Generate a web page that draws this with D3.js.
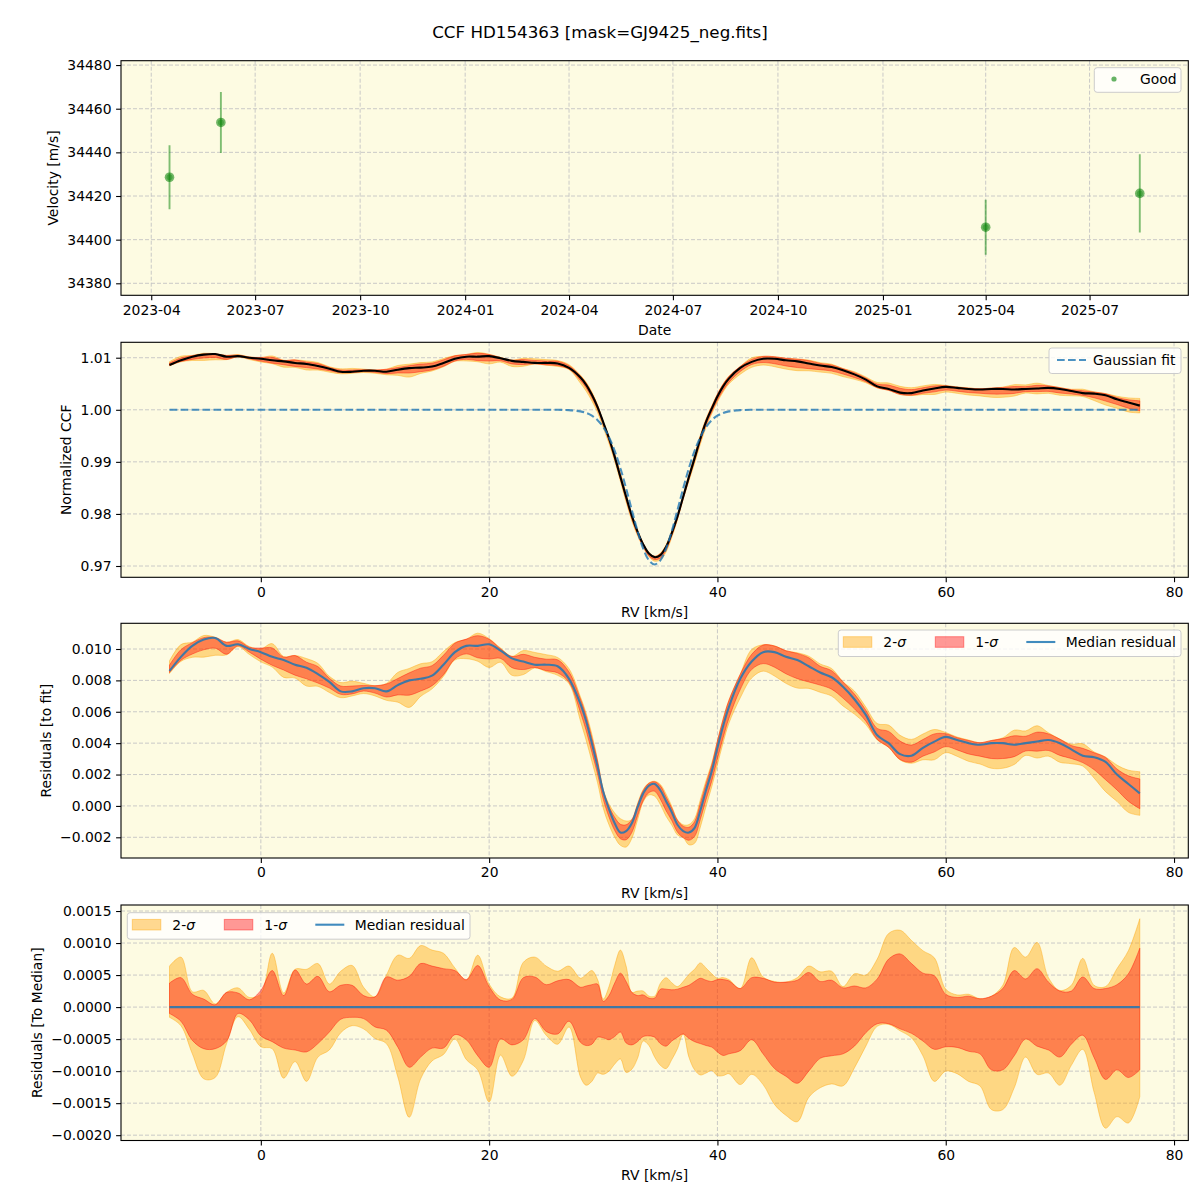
<!DOCTYPE html>
<html><head><meta charset="utf-8">
<script src="https://cdn.jsdelivr.net/npm/d3@7"></script>
<style>body{margin:0;background:#fff}</style>
</head><body>
<svg id="c" width="1200" height="1200" xmlns="http://www.w3.org/2000/svg"></svg>
<script>
// ---------------- data ----------------
const titleText = "CCF HD154363 [mask=GJ9425_neg.fits]";
const obsDates = ["2023-04-17", "2023-06-01", "2025-04-01", "2025-08-14"];
const obsVel = [34428.6, 34453.7, 34405.7, 34421.2];
const obsErr = [14.7, 14.0, 12.6, 17.9];

const rv = [-8,-7,-6,-5,-4,-3,-2,-1,0,1,2,3,4,5,6,7,8,9,10,11,12,13,14,15,16,17,18,19,20,21,22,23,24,25,26,27,
  28,28.5,29,29.5,30,30.5,31,31.5,32,32.5,33,33.5,34,34.5,35,35.5,36,36.5,37,37.5,38,38.5,39,39.5,40,40.5,41,
  42,43,44,45,46,47,48,49,50,51,52,53,54,55,56,57,58,59,60,61,62,63,64,65,66,67,68,69,70,71,72,73,74,75,76,77];

const gaussFit = [1,1,1,1,1,1,1,1,1,1,1,1,1,1,1,1,1,1,1,1,1,1,1,1,1,1,1,1,1,1,1,1,1,1,1,0.99993,
  0.99969,0.99940,0.99887,0.99801,0.99668,0.99474,0.99211,0.98878,0.98489,0.98073,0.97672,0.97334,0.97109,0.97030,
  0.97109,0.97334,0.97672,0.98073,0.98489,0.98878,0.99211,0.99474,0.99668,0.99801,0.99887,0.99940,0.99969,
  0.99993,1,1,1,1,1,1,1,1,1,1,1,1,1,1,1,1,1,1,1,1,1,1,1,1,1,1,1,1,1,1,1,1,1,1,1];

const medianRes = [0.0086,0.0095,0.0102,0.0106,0.0107,0.0102,0.0103,0.0100,0.0098,0.0095,0.0093,0.0090,0.0088,0.0084,0.0079,0.0073,0.0073,0.0075,0.0075,0.0073,0.0077,0.0080,0.0081,0.0083,0.0090,0.0098,0.0102,0.0102,0.0103,0.0099,0.0094,0.0092,0.0090,0.0090,0.0089,0.0081,
  0.0065,0.0054,0.0040,0.0025,0.0009,-0.0002,-0.0011,-0.0017,-0.0016,-0.0011,-0.0001,0.0008,0.0013,0.0014,0.0010,0.0003,-0.0004,-0.0012,-0.0016,-0.0017,-0.0014,-0.0003,0.0010,0.0022,0.0037,0.0051,0.0063,
  0.0081,0.0092,0.0098,0.0098,0.0095,0.0093,0.0089,0.0085,0.0082,0.0076,0.0068,0.0058,0.0045,0.0040,0.0033,0.0032,0.0037,0.0041,0.0044,0.0042,0.0040,0.0039,0.0040,0.0040,0.0039,0.0040,0.0041,0.0042,0.0040,0.0036,0.0032,0.0031,0.0028,0.0020,0.0014,0.0008];

// band offsets from the median, in units of 1e-4
const up2 = [6.4,7.8,2.4,2.6,0.5,2.3,3.0,1.5,2.1,8.4,2.2,5.9,5.9,6.8,3.6,5.6,6.5,3.1,1.6,5.0,8.1,7.6,9.6,8.9,8.4,6.1,4.2,8.1,3.6,1.6,1.4,7.0,7.8,6.4,5.6,6.4,
  4.5,5.1,5.7,4.3,1.25,3.2,6.5,8.9,6.4,2.3,2.5,2.5,1.7,1.7,3.7,4.6,3.8,3.2,4.0,5.1,5.9,6.9,6.1,5.2,4.5,4.6,4.3,
  2.9,7.7,4.7,4.0,3.9,4.6,6.4,5.5,5.6,3.2,5.2,5.0,7.5,11.5,12.0,10.4,8.8,7.7,2.8,1.9,2.0,1.3,1.7,3.4,9.3,7.8,10.1,4.6,2.6,3.4,7.6,3.4,3.2,6.0,8.8,13.8];
const up1 = [3.75,4.6,2.0,1.25,0.36,2.3,2.2,1.15,2.6,5.7,1.8,5.8,3.6,4.8,2.4,3.4,3.4,1.8,1.6,4.7,4.2,4.8,6.8,6.4,6.0,5.7,4.3,6.5,3.2,1.1,1.2,4.6,4.7,3.5,4.1,4.3,
  3.1,3.3,3.5,3.6,0.9,1.8,3.75,5.3,4.0,2.3,1.8,1.9,1.4,1.4,2.8,2.8,2.7,2.8,3.1,3.4,4.0,4.5,4.2,4.0,4.3,4.3,4.1,
  2.9,4.6,4.5,3.9,3.9,4.2,5.4,4.0,4.2,3.0,3.3,3.0,4.4,7.5,8.3,6.8,5.3,4.9,2.0,1.5,1.7,1.3,1.7,2.9,5.7,4.4,6.0,3.9,2.5,2.5,4.7,2.9,2.9,3.5,5.2,9.2];
const lo1 = [-1.0,-2.2,-5.2,-6.5,-6.5,-5.3,-1.0,-2.0,-4.5,-5.4,-6.4,-6.7,-7.0,-5.7,-3.9,-1.9,-1.6,-1.8,-3.1,-3.6,-6.25,-9.4,-7.8,-6.4,-6.4,-4.3,-5.1,-7.6,-9.4,-5.0,-5.9,-5.1,-1.8,-3.8,-4.2,-2.2,
  -5.5,-6.0,-5.8,-4.7,-4.8,-5.1,-4.6,-3.9,-5.6,-5.9,-5.4,-4.6,-4.5,-4.7,-5.7,-6.1,-5.3,-4.7,-4.2,-4.9,-5.4,-5.7,-6.0,-6.25,-7.0,-7.55,-7.3,
  -6.8,-5.1,-7.3,-9.6,-10.8,-11.9,-10.0,-8.0,-7.6,-7.3,-6.1,-4.0,-2.6,-2.6,-3.4,-4.1,-5.3,-6.6,-6.2,-6.3,-6.9,-7.3,-9.8,-9.8,-7.6,-5.0,-6.1,-6.7,-7.8,-5.8,-4.4,-7.9,-11.3,-9.8,-11.0,-9.8];
const lo2 = [-1.6,-2.9,-7.3,-11.2,-11.0,-5.7,-1.5,-3.5,-6.2,-6.5,-11.1,-8.5,-11.6,-7.8,-6.7,-4.0,-2.9,-3.4,-4.9,-5.7,-10.9,-17.2,-11.2,-8.4,-7.4,-5.0,-8.2,-9.8,-14.8,-7.5,-10.8,-8.3,-2.1,-4.4,-5.8,-3.1,
  -10.9,-12.2,-11.6,-10.3,-10.5,-10.0,-8.9,-8.1,-10.2,-9.7,-8.0,-5.3,-6.0,-7.8,-9.1,-9.6,-8.2,-6.5,-4.2,-7.8,-9.8,-10.6,-10.3,-9.9,-10.7,-10.7,-10.4,
  -12.1,-10.5,-12.1,-15.2,-16.9,-17.9,-14.1,-12.6,-12.0,-12.3,-9.5,-6.1,-3.0,-2.7,-3.7,-4.8,-7.6,-11.6,-10.0,-10.4,-11.6,-12.3,-16.0,-16.0,-12.6,-7.8,-10.5,-10.3,-12.2,-9.1,-6.6,-13.3,-18.9,-17.1,-18.1,-14.0];

const dateTicks = ["2023-04","2023-07","2023-10","2024-01","2024-04","2024-07","2024-10","2025-01","2025-04","2025-07"];
const velTicks = [34380, 34400, 34420, 34440, 34460, 34480];
const rvTicks = [0, 20, 40, 60, 80];
const ccfTicks = [0.97, 0.98, 0.99, 1.00, 1.01];
const resTicks = [-0.002, 0.000, 0.002, 0.004, 0.006, 0.008, 0.010];
const medTicks = [-0.0020, -0.0015, -0.0010, -0.0005, 0.0000, 0.0005, 0.0010, 0.0015];

// ---------------- layout ----------------
const FONT = "'DejaVu Sans', sans-serif";
const FS = 13.9;
const L = 121, R = 1188.3;
const BG = "#fdfbe2";
const C0 = "#1f77b4";
const svg = d3.select("#c");
svg.append("rect").attr("width", 1200).attr("height", 1200).attr("fill", "#fff");

svg.append("text").attr("x", 600).attr("y", 38).attr("text-anchor", "middle")
  .attr("font-family", FONT).attr("font-size", 16.7).text(titleText);

const parse = d3.utcParse("%Y-%m-%d");
const parseM = d3.utcParse("%Y-%m");
const dates = obsDates.map(parse);
const dExt = d3.extent(dates);
const dPad = (dExt[1] - dExt[0]) * 0.05;
const xDate = d3.scaleUtc().domain([new Date(+dExt[0] - dPad), new Date(+dExt[1] + dPad)]).range([L, R]);

const rvExt = d3.extent(rv);
const rvPad = (rvExt[1] - rvExt[0]) * 0.05;
const xRV = d3.scaleLinear().domain([rvExt[0] - rvPad, rvExt[1] + rvPad]).range([L, R]);

const curve = d3.curveCatmullRom.alpha(0.5);
let clipId = 0;

function panel(top, bottom, x, y, xTickVals, xFmt, yTickVals, yFmt, xLabel, yLabel, yLabelX) {
  const g = svg.append("g");
  g.append("rect").attr("x", L).attr("y", top).attr("width", R - L).attr("height", bottom - top).attr("fill", BG);
  const grid = g.append("g").attr("stroke", "#c4c4c4").attr("stroke-width", 0.9).attr("stroke-dasharray", "4,2");
  xTickVals.forEach(t => grid.append("line").attr("x1", x(t)).attr("x2", x(t)).attr("y1", top).attr("y2", bottom));
  yTickVals.forEach(t => grid.append("line").attr("x1", L).attr("x2", R).attr("y1", y(t)).attr("y2", y(t)));
  const id = "clip" + (clipId++);
  svg.append("clipPath").attr("id", id).append("rect").attr("x", L).attr("y", top).attr("width", R - L).attr("height", bottom - top);
  const data = g.append("g").attr("clip-path", `url(#${id})`);
  const xa = g.append("g").attr("transform", `translate(0,${bottom})`)
    .call(d3.axisBottom(x).tickValues(xTickVals).tickFormat(xFmt).tickSize(4.9).tickPadding(4.6).tickSizeOuter(0));
  const ya = g.append("g").attr("transform", `translate(${L},0)`)
    .call(d3.axisLeft(y).tickValues(yTickVals).tickFormat(yFmt).tickSize(4.9).tickPadding(4.6).tickSizeOuter(0));
  [xa, ya].forEach(a => {
    a.select(".domain").remove();
    a.attr("font-family", FONT).attr("font-size", FS);
    a.selectAll("line").attr("stroke", "#000").attr("stroke-width", 1.1);
    a.selectAll("text").attr("fill", "#000");
  });
  g.append("rect").attr("x", L).attr("y", top).attr("width", R - L).attr("height", bottom - top)
    .attr("fill", "none").attr("stroke", "#000").attr("stroke-width", 1.1);
  g.append("text").attr("x", (L + R) / 2).attr("y", bottom + 39.5).attr("text-anchor", "middle")
    .attr("font-family", FONT).attr("font-size", FS).text(xLabel);
  g.append("text").attr("transform", `translate(${yLabelX},${(top + bottom) / 2}) rotate(-90)`)
    .attr("dy", "0.35em").attr("text-anchor", "middle").attr("font-family", FONT).attr("font-size", FS).text(yLabel);
  return {g, data};
}

function legendBox(g, x0, y0, w, h) {
  g.append("rect").attr("x", x0).attr("y", y0).attr("width", w).attr("height", h).attr("rx", 2.8)
    .attr("fill", "#fff").attr("fill-opacity", 0.8).attr("stroke", "#cccccc").attr("stroke-width", 1);
}
function legText(g, x0, yb, parts) {
  const t = g.append("text").attr("x", x0).attr("y", yb).attr("font-family", FONT).attr("font-size", FS);
  parts.forEach(p => t.append("tspan").attr("font-style", p[1] ? "italic" : "normal").text(p[0]));
}

function bands(data, x, y, base) {
  const a2 = d3.area().x((d, i) => x(rv[i])).y0((d, i) => y(base(i) + lo2[i] * 1e-4)).y1((d, i) => y(base(i) + up2[i] * 1e-4)).curve(curve);
  const a1 = d3.area().x((d, i) => x(rv[i])).y0((d, i) => y(base(i) + lo1[i] * 1e-4)).y1((d, i) => y(base(i) + up1[i] * 1e-4)).curve(curve);
  data.append("path").datum(rv).attr("d", a2).attr("fill", "orange").attr("fill-opacity", 0.42)
    .attr("stroke", "orange").attr("stroke-opacity", 0.42).attr("stroke-width", 1);
  data.append("path").datum(rv).attr("d", a1).attr("fill", "red").attr("fill-opacity", 0.4)
    .attr("stroke", "red").attr("stroke-opacity", 0.4).attr("stroke-width", 1);
}
function bandLegend(g, x0, y0, w) {
  legendBox(g, x0, y0, w, 26.5);
  const cy = y0 + 12;
  g.append("rect").attr("x", x0 + 5).attr("y", cy - 5.3).attr("width", 28.5).attr("height", 10.6)
    .attr("fill", "orange").attr("fill-opacity", 0.42).attr("stroke", "orange").attr("stroke-opacity", 0.42);
  legText(g, x0 + 45, cy + 5, [["2-", false], ["σ", true]]);
  g.append("rect").attr("x", x0 + 97).attr("y", cy - 5.3).attr("width", 28.5).attr("height", 10.6)
    .attr("fill", "red").attr("fill-opacity", 0.4).attr("stroke", "red").attr("stroke-opacity", 0.4);
  legText(g, x0 + 137, cy + 5, [["1-", false], ["σ", true]]);
  g.append("line").attr("x1", x0 + 188).attr("x2", x0 + 217).attr("y1", cy).attr("y2", cy)
    .attr("stroke", C0).attr("stroke-opacity", 0.85).attr("stroke-width", 2.1);
  legText(g, x0 + 227.5, cy + 5, [["Median residual", false]]);
}

// ---------------- panel 1: velocities ----------------
{
  const top = 60.7, bottom = 295.3;
  const y = d3.scaleLinear().domain([34374.5, 34482.0]).range([bottom, top]);
  const tickDates = dateTicks.map(parseM);
  const fmt = d3.utcFormat("%Y-%m");
  const p = panel(top, bottom, xDate, y, tickDates, fmt, velTicks, d3.format("d"), "Date", "Velocity [m/s]", 53);
  dates.forEach((d, i) => {
    p.data.append("line").attr("x1", xDate(d)).attr("x2", xDate(d))
      .attr("y1", y(obsVel[i] - obsErr[i])).attr("y2", y(obsVel[i] + obsErr[i]))
      .attr("stroke", "green").attr("stroke-opacity", 0.5).attr("stroke-width", 1.9);
    p.data.append("circle").attr("cx", xDate(d)).attr("cy", y(obsVel[i])).attr("r", 4.8)
      .attr("fill", "green").attr("fill-opacity", 0.55);
    p.data.append("circle").attr("cx", xDate(d)).attr("cy", y(obsVel[i])).attr("r", 3)
      .attr("fill", "green").attr("fill-opacity", 0.35);
  });
  legendBox(p.g, 1094.3, 67.7, 86.7, 24.6);
  p.g.append("circle").attr("cx", 1114).attr("cy", 79).attr("r", 2.6).attr("fill", "green").attr("fill-opacity", 0.6);
  legText(p.g, 1140, 84, [["Good", false]]);
}

// ---------------- panel 2: normalized CCF ----------------
{
  const top = 342.3, bottom = 577.3;
  const y = d3.scaleLinear().domain([0.96783, 1.01296]).range([bottom, top]);
  const p = panel(top, bottom, xRV, y, rvTicks, d3.format("d"), ccfTicks, d3.format(".2f"), "RV [km/s]", "Normalized CCF", 66);
  const base = i => gaussFit[i] + medianRes[i];
  bands(p.data, xRV, y, base);
  p.data.append("path").datum(rv).attr("d", d3.line().x((d, i) => xRV(rv[i])).y((d, i) => y(base(i))).curve(curve))
    .attr("fill", "none").attr("stroke", "#000").attr("stroke-width", 2.1);
  p.data.append("path").datum(rv).attr("d", d3.line().x((d, i) => xRV(rv[i])).y((d, i) => y(gaussFit[i])).curve(curve))
    .attr("fill", "none").attr("stroke", C0).attr("stroke-opacity", 0.8).attr("stroke-width", 2.1).attr("stroke-dasharray", "7.7,3.3");
  legendBox(p.g, 1049, 348, 132, 25.5);
  p.g.append("line").attr("x1", 1057).attr("x2", 1086).attr("y1", 360).attr("y2", 360)
    .attr("stroke", C0).attr("stroke-opacity", 0.8).attr("stroke-width", 2.1).attr("stroke-dasharray", "7.7,3.3");
  legText(p.g, 1093, 365, [["Gaussian fit", false]]);
}

// ---------------- panel 3: residuals to fit ----------------
{
  const top = 623.3, bottom = 858;
  const y = d3.scaleLinear().domain([-0.003319, 0.011638]).range([bottom, top]);
  const p = panel(top, bottom, xRV, y, rvTicks, d3.format("d"), resTicks, d3.format(".3f"), "RV [km/s]", "Residuals [to fit]", 46);
  const base = i => medianRes[i];
  bands(p.data, xRV, y, base);
  p.data.append("path").datum(rv).attr("d", d3.line().x((d, i) => xRV(rv[i])).y((d, i) => y(base(i))).curve(curve))
    .attr("fill", "none").attr("stroke", C0).attr("stroke-opacity", 0.85).attr("stroke-width", 2.1);
  bandLegend(p.g, 838.3, 630, 342.7);
}

// ---------------- panel 4: residuals to median ----------------
{
  const top = 905, bottom = 1140.5;
  const y = d3.scaleLinear().domain([-0.002083, 0.001594]).range([bottom, top]);
  const p = panel(top, bottom, xRV, y, rvTicks, d3.format("d"), medTicks, d3.format(".4f"), "RV [km/s]", "Residuals [To Median]", 36.7);
  const base = i => 0;
  bands(p.data, xRV, y, base);
  p.data.append("path").datum(rv).attr("d", d3.line().x((d, i) => xRV(rv[i])).y(() => y(0)).curve(curve))
    .attr("fill", "none").attr("stroke", C0).attr("stroke-opacity", 0.85).attr("stroke-width", 2.1);
  bandLegend(p.g, 127.3, 912.7, 342.7);
}
</script>
</body></html>
